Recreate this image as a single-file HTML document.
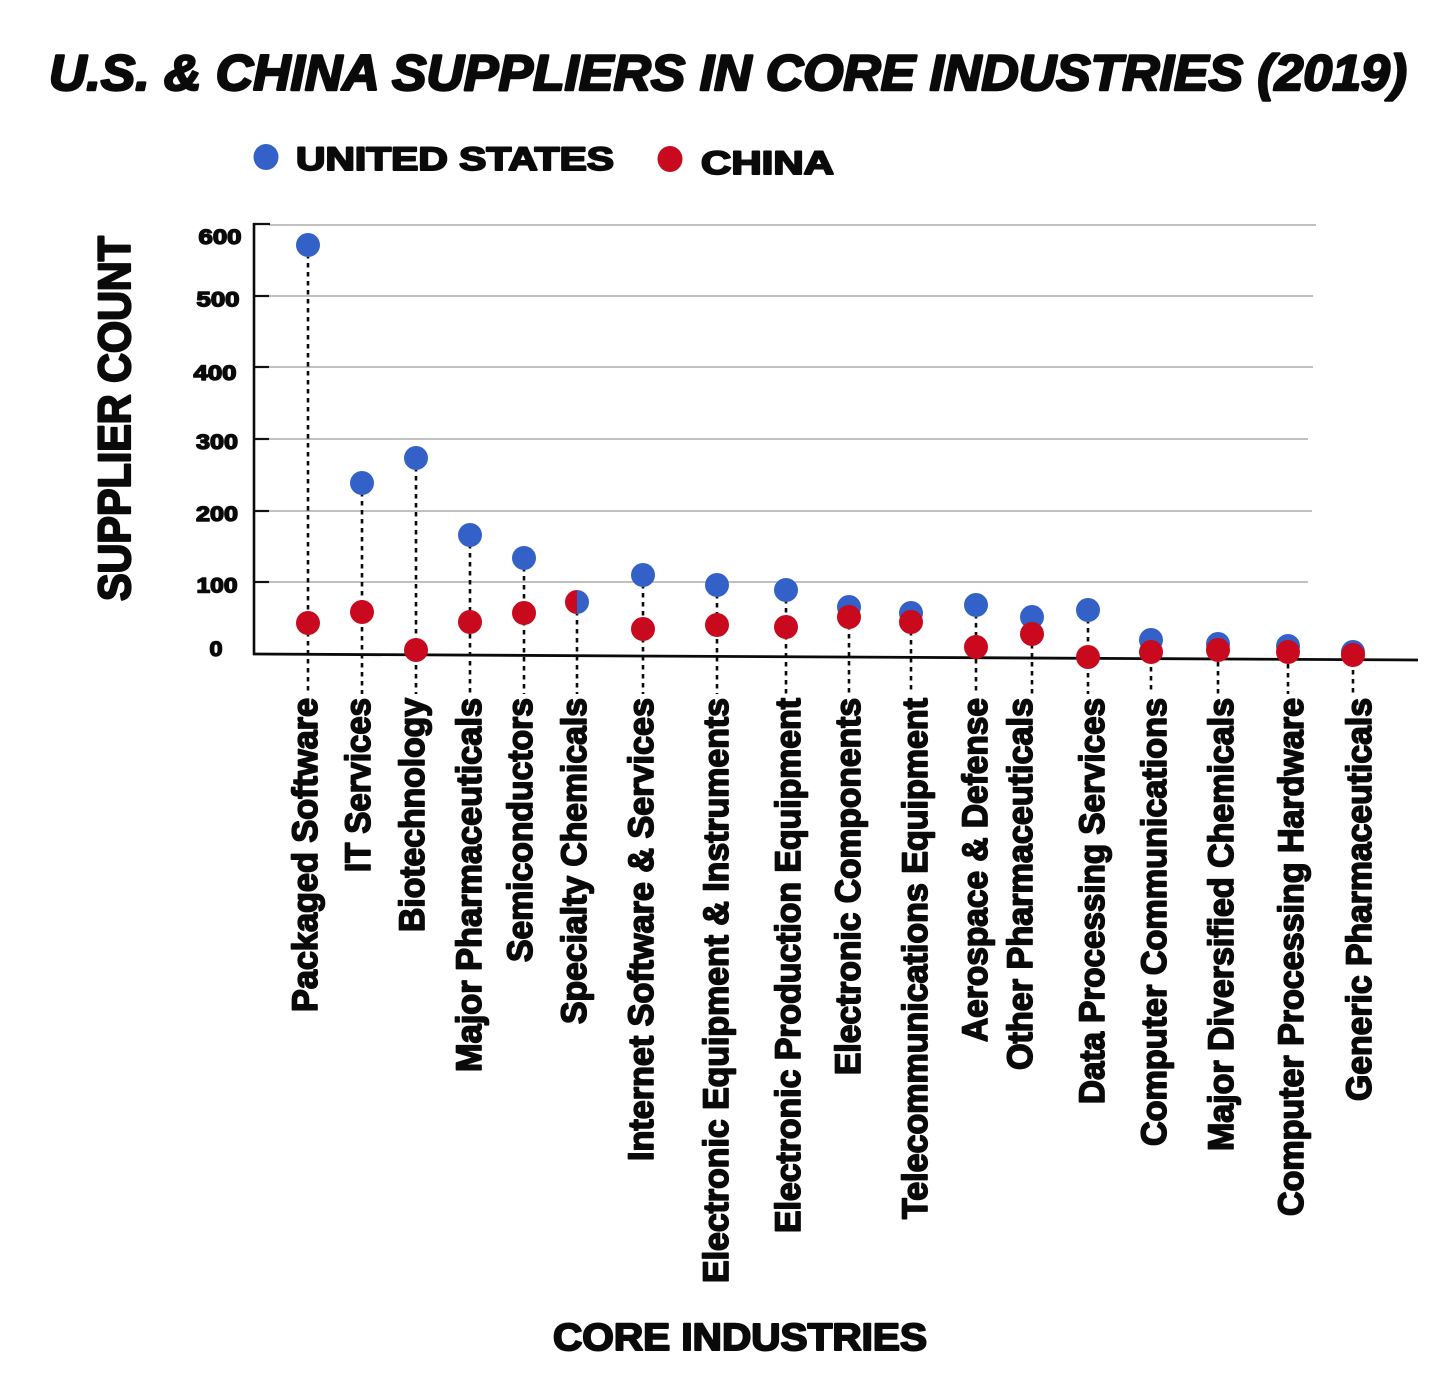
<!DOCTYPE html>
<html>
<head>
<meta charset="utf-8">
<style>
  html, body { margin: 0; padding: 0; background: #ffffff; }
  svg { display: block; }
  text { font-family: "Liberation Sans", "DejaVu Sans", sans-serif; font-weight: bold; fill: #0a0a0a; stroke: #0a0a0a; stroke-linejoin: round; }
</style>
</head>
<body>
<svg width="1440" height="1393" viewBox="0 0 1440 1393" xmlns="http://www.w3.org/2000/svg">
  <rect width="1440" height="1393" fill="#ffffff"/>

  <!-- Title -->
  <text x="49" y="90" font-size="50" font-style="italic" stroke-width="2.4" textLength="1358" lengthAdjust="spacingAndGlyphs">U.S. &amp; CHINA SUPPLIERS IN CORE INDUSTRIES (2019)</text>

  <!-- Legend -->
  <ellipse cx="266" cy="157" rx="12.5" ry="13" fill="#3461C7"/>
  <text x="296" y="170" font-size="32" stroke-width="1.9" textLength="318" lengthAdjust="spacingAndGlyphs">UNITED STATES</text>
  <ellipse cx="670" cy="159" rx="12.5" ry="13" fill="#C8091E"/>
  <text x="701" y="174" font-size="32" stroke-width="1.9" textLength="133" lengthAdjust="spacingAndGlyphs">CHINA</text>

  <!-- Gridlines -->
  <g stroke="#9a9a9a" stroke-width="1.3">
    <line x1="269" y1="225" x2="1316" y2="225"/>
    <line x1="269" y1="296" x2="1313" y2="296"/>
    <line x1="269" y1="367" x2="1313" y2="367"/>
    <line x1="269" y1="439" x2="1308" y2="439"/>
    <line x1="269" y1="511" x2="1312" y2="511"/>
    <line x1="269" y1="582" x2="1308" y2="582"/>
  </g>
  <!-- ticks -->
  <g stroke="#111" stroke-width="2.2">
    <line x1="253" y1="224" x2="270" y2="224"/>
    <line x1="253" y1="296" x2="269" y2="296"/>
    <line x1="253" y1="367" x2="269" y2="367"/>
    <line x1="253" y1="439" x2="269" y2="439"/>
    <line x1="253" y1="511" x2="269" y2="511"/>
    <line x1="253" y1="582" x2="269" y2="582"/>
  </g>
  <!-- Y axis -->
  <line x1="254" y1="223" x2="254" y2="655" stroke="#0a0a0a" stroke-width="2.6"/>

  <!-- Y tick labels -->
  <g font-size="21" stroke-width="1.4" text-anchor="middle">
    <text x="220" y="244" textLength="43" lengthAdjust="spacingAndGlyphs">600</text>
    <text x="218" y="306.5" textLength="43" lengthAdjust="spacingAndGlyphs">500</text>
    <text x="215" y="380" textLength="43" lengthAdjust="spacingAndGlyphs">400</text>
    <text x="217" y="449" textLength="42" lengthAdjust="spacingAndGlyphs">300</text>
    <text x="217" y="521" textLength="42" lengthAdjust="spacingAndGlyphs">200</text>
    <text x="217" y="592.5" textLength="41" lengthAdjust="spacingAndGlyphs">100</text>
    <text x="216" y="656" textLength="13" lengthAdjust="spacingAndGlyphs">0</text>
  </g>

  <!-- Y axis title -->
  <text transform="translate(130,418.5) rotate(-90)" x="0" y="0" font-size="45" stroke-width="2.2" text-anchor="middle" textLength="365" lengthAdjust="spacingAndGlyphs">SUPPLIER COUNT</text>

  <!-- Dotted stems -->
  <g stroke="#0a0a0a" stroke-width="2.6" stroke-dasharray="4.5 4.5" fill="none">
    <line x1="308" y1="245" x2="308" y2="694"/>
    <line x1="362" y1="483" x2="362" y2="694"/>
    <line x1="416" y1="458" x2="416" y2="694"/>
    <line x1="470" y1="535" x2="470" y2="694"/>
    <line x1="524" y1="558" x2="524" y2="694"/>
    <line x1="577" y1="602" x2="577" y2="694"/>
    <line x1="643" y1="575" x2="643" y2="694"/>
    <line x1="717" y1="585" x2="717" y2="694"/>
    <line x1="786" y1="590" x2="786" y2="694"/>
    <line x1="849" y1="607" x2="849" y2="694"/>
    <line x1="911" y1="613" x2="911" y2="694"/>
    <line x1="976" y1="605" x2="976" y2="694"/>
    <line x1="1032" y1="617" x2="1032" y2="694"/>
    <line x1="1088" y1="610" x2="1088" y2="694"/>
    <line x1="1151" y1="640" x2="1151" y2="694"/>
    <line x1="1218" y1="644" x2="1218" y2="694"/>
    <line x1="1288" y1="646" x2="1288" y2="694"/>
    <line x1="1353" y1="652" x2="1353" y2="694"/>
  </g>

  <!-- Baseline (x axis) -->
  <line x1="253" y1="654" x2="1418" y2="660" stroke="#0a0a0a" stroke-width="2.8"/>

  <!-- US dots -->
  <g fill="#3461C7">
    <circle cx="308" cy="245" r="12"/>
    <circle cx="362" cy="483" r="12"/>
    <circle cx="416" cy="458" r="12"/>
    <circle cx="470" cy="535" r="12"/>
    <circle cx="524" cy="558" r="12"/>
    <circle cx="643" cy="575" r="12"/>
    <circle cx="717" cy="585" r="12"/>
    <circle cx="786" cy="590" r="12"/>
    <circle cx="849" cy="607" r="12"/>
    <circle cx="911" cy="613" r="12"/>
    <circle cx="976" cy="605" r="12"/>
    <circle cx="1032" cy="617" r="12"/>
    <circle cx="1088" cy="610" r="12"/>
    <circle cx="1151" cy="640" r="12"/>
    <circle cx="1218" cy="644" r="12"/>
    <circle cx="1288" cy="646" r="12"/>
    <circle cx="1353" cy="652" r="12"/>
  </g>
  <!-- China dots -->
  <g fill="#C8091E">
    <circle cx="308" cy="623" r="12"/>
    <circle cx="362" cy="612" r="12"/>
    <circle cx="416" cy="650" r="12"/>
    <circle cx="470" cy="622" r="12"/>
    <circle cx="524" cy="613" r="12"/>
    <circle cx="643" cy="629" r="12"/>
    <circle cx="717" cy="625" r="12"/>
    <circle cx="786" cy="627" r="12"/>
    <circle cx="849" cy="617" r="12"/>
    <circle cx="911" cy="622" r="12"/>
    <circle cx="976" cy="647" r="12"/>
    <circle cx="1032" cy="634" r="12"/>
    <circle cx="1088" cy="657" r="12"/>
    <circle cx="1151" cy="652" r="12"/>
    <circle cx="1218" cy="650" r="12"/>
    <circle cx="1288" cy="652" r="12"/>
    <circle cx="1353" cy="655" r="12"/>
  </g>
  <!-- Specialty Chemicals: half red / half blue -->
  <path d="M577,590 A12,12 0 0,0 577,614 Z" fill="#C8091E"/>
  <path d="M577,590 A12,12 0 0,1 577,614 Z" fill="#3461C7"/>

  <!-- X category labels -->
  <g font-size="35" stroke-width="1.7" text-anchor="end">
    <text transform="translate(317,698) rotate(-90)" textLength="314" lengthAdjust="spacingAndGlyphs">Packaged Software</text>
    <text transform="translate(370,698) rotate(-90)" textLength="174" lengthAdjust="spacingAndGlyphs">IT Services</text>
    <text transform="translate(424,698) rotate(-90)" textLength="234" lengthAdjust="spacingAndGlyphs">Biotechnology</text>
    <text transform="translate(481,698) rotate(-90)" textLength="374" lengthAdjust="spacingAndGlyphs">Major Pharmaceuticals</text>
    <text transform="translate(532,698) rotate(-90)" textLength="264" lengthAdjust="spacingAndGlyphs">Semiconductors</text>
    <text transform="translate(586,698) rotate(-90)" textLength="326" lengthAdjust="spacingAndGlyphs">Specialty Chemicals</text>
    <text transform="translate(653,698) rotate(-90)" textLength="463" lengthAdjust="spacingAndGlyphs">Internet Software &amp; Services</text>
    <text transform="translate(728,698) rotate(-90)" textLength="585" lengthAdjust="spacingAndGlyphs">Electronic Equipment &amp; Instruments</text>
    <text transform="translate(800,698) rotate(-90)" textLength="535" lengthAdjust="spacingAndGlyphs">Electronic Production Equipment</text>
    <text transform="translate(860,698) rotate(-90)" textLength="377" lengthAdjust="spacingAndGlyphs">Electronic Components</text>
    <text transform="translate(927,698) rotate(-90)" textLength="521" lengthAdjust="spacingAndGlyphs">Telecommunications Equipment</text>
    <text transform="translate(987,698) rotate(-90)" textLength="344" lengthAdjust="spacingAndGlyphs">Aerospace &amp; Defense</text>
    <text transform="translate(1032,698) rotate(-90)" textLength="372" lengthAdjust="spacingAndGlyphs">Other Pharmaceuticals</text>
    <text transform="translate(1104,698) rotate(-90)" textLength="406" lengthAdjust="spacingAndGlyphs">Data Processing Services</text>
    <text transform="translate(1166,698) rotate(-90)" textLength="448" lengthAdjust="spacingAndGlyphs">Computer Communications</text>
    <text transform="translate(1233,698) rotate(-90)" textLength="453" lengthAdjust="spacingAndGlyphs">Major Diversified Chemicals</text>
    <text transform="translate(1303,698) rotate(-90)" textLength="518" lengthAdjust="spacingAndGlyphs">Computer Processing Hardware</text>
    <text transform="translate(1371,698) rotate(-90)" textLength="403" lengthAdjust="spacingAndGlyphs">Generic Pharmaceuticals</text>
  </g>

  <!-- X axis title -->
  <text x="553" y="1350" font-size="38" stroke-width="2" textLength="374" lengthAdjust="spacingAndGlyphs">CORE INDUSTRIES</text>
</svg>
</body>
</html>
